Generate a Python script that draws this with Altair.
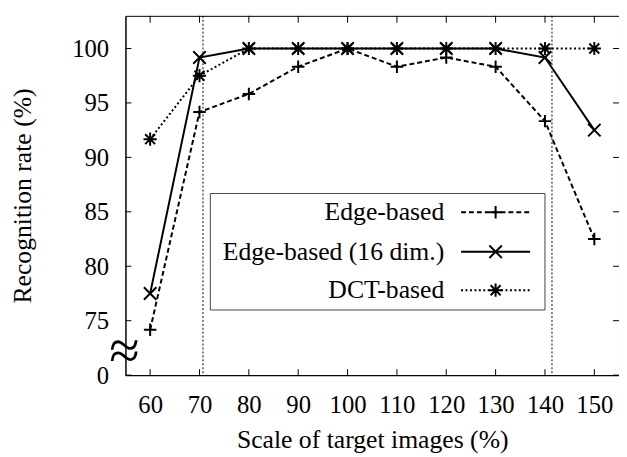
import altair as alt
import pandas as pd

# ---- data ----
scales = [60, 70, 80, 90, 100, 110, 120, 130, 140, 150]
edge = [74.17, 94.17, 95.83, 98.33, 100, 98.33, 99.17, 98.33, 93.33, 82.5]
edge16 = [77.5, 99.17, 100, 100, 100, 100, 100, 100, 99.17, 92.5]
dct = [91.67, 97.5, 100, 100, 100, 100, 100, 100, 100, 100]
series_names = ["Edge-based", "Edge-based (16 dim.)", "DCT-based"]
x_ticks = [60, 70, 80, 90, 100, 110, 120, 130, 140, 150]
y_ticks = [70, 75, 80, 85, 90, 95, 100]
ref_lines = [70.71, 141.42]

W, H = 500, 364
FONT = "'Times New Roman', 'Liberation Serif', 'DejaVu Serif', serif"

xs = alt.Scale(domain=[55, 155], nice=False, zero=False)
ys = alt.Scale(domain=[70, 103], nice=False, zero=False)

xaxis = alt.Axis(values=x_ticks, title="Scale of target images (%)", ticks=False,
                 grid=False, labelPadding=18, titleY=73, titleBaseline="alphabetic")
yaxis = alt.Axis(values=y_ticks, title="Recognition rate (%)", ticks=False, grid=False,
                 labelPadding=17, labelExpr="datum.value == 70 ? '0' : datum.label",
                 titleX=-96, titleY=H / 2, titleAlign="center", titleBaseline="alphabetic")

PLUS = "M-1,0L1,0M0,-1L0,1"
CROSS = "M-1,-1L1,1M-1,1L1,-1"
STAR = "M-1,0L1,0M0,-1L0,1M-0.75,-0.75L0.75,0.75M-0.75,0.75L0.75,-0.75"

styles = [
    dict(dash=[5, 3], shape=PLUS, size=160),
    dict(dash=None, shape=CROSS, size=160),
    dict(dash=[2, 2.5], shape=STAR, size=180),
]
values = [edge, edge16, dct]

layers = []

# reference dotted lines
layers.append(
    alt.Chart(pd.DataFrame({"r": ref_lines}))
    .mark_rule(color="black", strokeWidth=1, strokeDash=[2, 2])
    .encode(x=alt.X("r:Q", scale=xs, axis=xaxis))
)

# inward ticks
xt = pd.DataFrame({"t": x_ticks})
yt = pd.DataFrame({"v": y_ticks})
layers.append(alt.Chart(xt).mark_rule(color="black", strokeWidth=1).encode(
    x=alt.X("t:Q", scale=xs, axis=xaxis), y=alt.value(H), y2=alt.value(H - 6)))
layers.append(alt.Chart(xt).mark_rule(color="black", strokeWidth=1).encode(
    x=alt.X("t:Q", scale=xs, axis=xaxis), y=alt.value(0), y2=alt.value(7)))
layers.append(alt.Chart(yt).mark_rule(color="black", strokeWidth=1).encode(
    y=alt.Y("v:Q", scale=ys, axis=yaxis), x=alt.value(0), x2=alt.value(6)))
layers.append(alt.Chart(yt).mark_rule(color="black", strokeWidth=1).encode(
    y=alt.Y("v:Q", scale=ys, axis=yaxis), x=alt.value(W - 6), x2=alt.value(W)))

# series
for name, vals, st in zip(series_names, values, styles):
    df = pd.DataFrame({"scale": scales, "rate": vals, "series": name})
    base = alt.Chart(df).encode(
        x=alt.X("scale:Q", scale=xs, axis=xaxis),
        y=alt.Y("rate:Q", scale=ys, axis=yaxis),
    )
    lk = dict(color="black", strokeWidth=2)
    if st["dash"]:
        lk["strokeDash"] = st["dash"]
    layers.append(base.mark_line(**lk))
    layers.append(base.mark_point(shape=st["shape"], size=st["size"], filled=False,
                                  color="black", strokeWidth=2, opacity=1))

# axis break symbol
one = pd.DataFrame({"a": [0]})
layers.append(alt.Chart(one).mark_text(text="≈", font=FONT, fontSize=56, color="black",
                                       align="center", baseline="middle")
              .encode(x=alt.value(-1), y=alt.value(341)))

# legend box
layers.append(alt.Chart(one).mark_rect(fill="white", stroke="#444", strokeWidth=1)
              .encode(x=alt.value(86), x2=alt.value(425), y=alt.value(180), y2=alt.value(298)))
rows_y = [199, 239, 278]
for name, st, ry in zip(series_names, styles, rows_y):
    layers.append(alt.Chart(one).mark_text(text=name, font=FONT, fontSize=26, color="black",
                                           align="right", baseline="middle")
                  .encode(x=alt.value(323), y=alt.value(ry)))
    rk = dict(color="black", strokeWidth=2)
    if st["dash"]:
        rk["strokeDash"] = st["dash"]
    layers.append(alt.Chart(one).mark_rule(**rk)
                  .encode(x=alt.value(340), x2=alt.value(410), y=alt.value(ry)))
    layers.append(alt.Chart(one).mark_point(shape=st["shape"], size=st["size"], filled=False,
                                            color="black", strokeWidth=2, opacity=1)
                  .encode(x=alt.value(375), y=alt.value(ry)))

chart = (
    alt.layer(*layers)
    .properties(width=W, height=H, background="white",
                autosize=alt.AutoSizeParams(type="none"),
                padding={"left": 119, "top": 5, "right": 0, "bottom": 80})
    .configure_view(stroke="black", strokeWidth=1)
    .configure_axis(domainColor="black", domainWidth=1, labelFont=FONT, labelFontSize=25,
                    labelColor="black", titleFont=FONT, titleFontSize=26,
                    titleFontWeight="normal", titleColor="black")
)

chart.save("out.html", embed_options={"renderer": "svg", "actions": False})
